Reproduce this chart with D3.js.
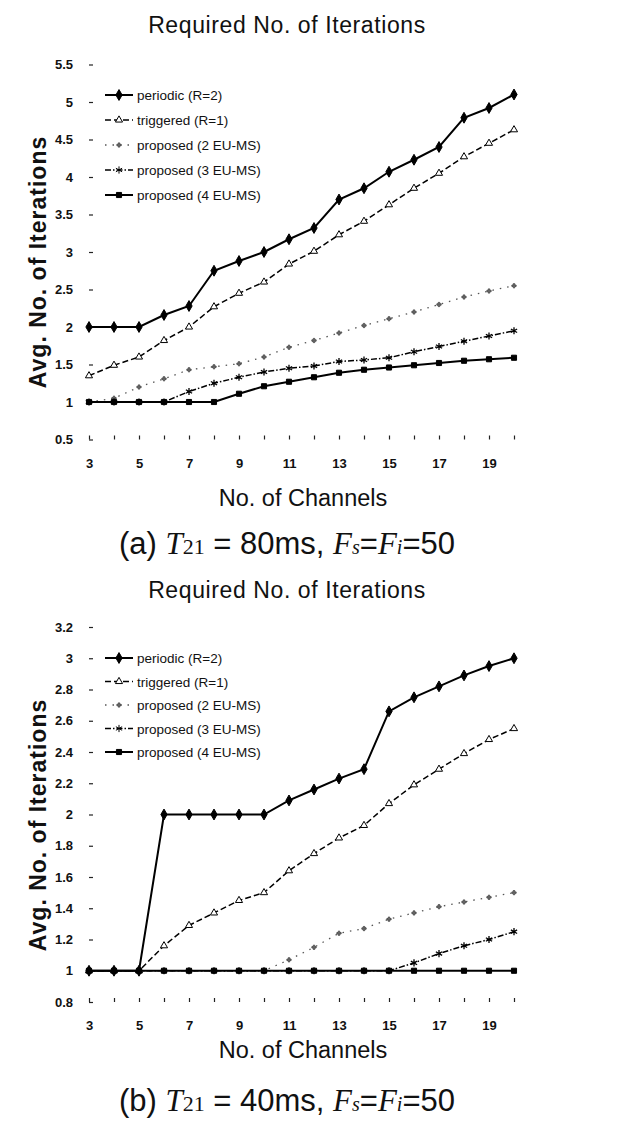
<!DOCTYPE html>
<html>
<head>
<meta charset="utf-8">
<script src="https://cdn.jsdelivr.net/npm/d3@7"></script>
<style>
  html, body { margin: 0; padding: 0; background: #fff; }
  svg { display: block; }
  text { font-family: "Liberation Sans", Arial, sans-serif; fill: #111; }
</style>
</head>
<body>
<svg id="chart" width="641" height="1123"></svg>
<script>
// ---------------- data ----------------
const channels = [3, 4, 5, 6, 7, 8, 9, 10, 11, 12, 13, 14, 15, 16, 17, 18, 19, 20];
const xTickLabels = [3, 5, 7, 9, 11, 13, 15, 17, 19];
const seriesNames = ["periodic (R=2)", "triggered (R=1)", "proposed (2 EU-MS)", "proposed (3 EU-MS)", "proposed (4 EU-MS)"];

// (a) T21 = 80ms
const aYTicks = [0.5, 1, 1.5, 2, 2.5, 3, 3.5, 4, 4.5, 5, 5.5];
const aPeriodic  = [2.0, 2.0, 2.0, 2.16, 2.28, 2.75, 2.88, 3.0, 3.17, 3.32, 3.7, 3.85, 4.07, 4.23, 4.4, 4.79, 4.92, 5.1];
const aTriggered = [1.35, 1.49, 1.6, 1.82, 2.0, 2.27, 2.45, 2.6, 2.84, 3.01, 3.23, 3.41, 3.63, 3.85, 4.05, 4.27, 4.45, 4.63];
const aProp2     = [1.0, 1.05, 1.2, 1.31, 1.43, 1.47, 1.51, 1.6, 1.73, 1.82, 1.92, 2.02, 2.11, 2.2, 2.3, 2.4, 2.48, 2.55];
const aProp3     = [1.0, 1.0, 1.0, 1.0, 1.14, 1.25, 1.33, 1.4, 1.45, 1.48, 1.54, 1.56, 1.59, 1.67, 1.74, 1.81, 1.88, 1.95];
const aProp4     = [1.0, 1.0, 1.0, 1.0, 1.0, 1.0, 1.11, 1.21, 1.27, 1.33, 1.39, 1.43, 1.46, 1.49, 1.52, 1.55, 1.57, 1.59];

// (b) T21 = 40ms
const bYTicks = [0.8, 1, 1.2, 1.4, 1.6, 1.8, 2, 2.2, 2.4, 2.6, 2.8, 3, 3.2];
const bPeriodic  = [1, 1, 1, 2, 2, 2, 2, 2, 2.09, 2.16, 2.23, 2.29, 2.66, 2.75, 2.82, 2.89, 2.95, 3.0];
const bTriggered = [1, 1, 1, 1.16, 1.29, 1.37, 1.45, 1.5, 1.64, 1.75, 1.85, 1.93, 2.07, 2.19, 2.29, 2.39, 2.48, 2.55];
const bProp2     = [1, 1, 1, 1, 1, 1, 1, 1, 1.07, 1.15, 1.24, 1.27, 1.33, 1.37, 1.41, 1.44, 1.47, 1.5];
const bProp3     = [1, 1, 1, 1, 1, 1, 1, 1, 1, 1, 1, 1, 1, 1.05, 1.11, 1.16, 1.2, 1.25];
const bProp4     = [1, 1, 1, 1, 1, 1, 1, 1, 1, 1, 1, 1, 1, 1, 1, 1, 1, 1];

// ---------------- styles ----------------
const styles = [
  { dash: null,        width: 2.0, color: "#000", sym: d3.symbolDiamond,  size: 34, fill: "#000" },
  { dash: "6,3",       width: 1.5, color: "#000", sym: d3.symbolTriangle, size: 22, fill: "#fff" },
  { dash: "1.5,6",     width: 1.3, color: "#555", sym: d3.symbolCross,    size: 10, fill: "#666" },
  { dash: "6,2,1.5,2", width: 1.5, color: "#000", sym: d3.symbolAsterisk, size: 36, fill: "none" },
  { dash: null,        width: 2.0, color: "#000", sym: d3.symbolSquare,   size: 26, fill: "#000" }
];

const svg = d3.select("#chart");
const x = d3.scaleLinear().domain([3, 20]).range([89, 514]);

function drawPanel(cfg) {
  const y = d3.scaleLinear().domain(cfg.yDomain).range(cfg.yRange);
  const g = svg.append("g");

  // title
  g.append("text").attr("x", 287).attr("y", cfg.titleY)
    .attr("text-anchor", "middle").style("font-size", "23px").style("letter-spacing", "0.6px")
    .text("Required No. of Iterations");

  // y axis (ticks only)
  const yAxis = d3.axisLeft(y).tickValues(cfg.yTicks).tickSize(-4).tickPadding(16)
    .tickFormat(d => String(d));
  const ya = g.append("g").attr("transform", "translate(89,0)").call(yAxis);
  ya.select(".domain").remove();
  ya.selectAll("line").attr("stroke", "#222").attr("stroke-width", 1.2);
  ya.selectAll("text").style("font-size", "13px").style("font-weight", "bold")
    .style("font-family", "'Liberation Sans', Arial, sans-serif").attr("fill", "#111");

  // x axis (ticks at each channel, labels on odd)
  const xAxis = d3.axisBottom(x).tickValues(channels).tickSize(-4).tickPadding(19)
    .tickFormat(d => xTickLabels.includes(d) ? String(d) : "");
  const xa = g.append("g").attr("transform", `translate(0,${cfg.yRange[0]})`).call(xAxis);
  xa.select(".domain").remove();
  xa.selectAll("line").attr("stroke", "#222").attr("stroke-width", 1.2);
  xa.selectAll("text").style("font-size", "13px").style("font-weight", "bold")
    .style("font-family", "'Liberation Sans', Arial, sans-serif").attr("fill", "#111");

  // y label
  g.append("text")
    .attr("transform", `translate(46,${cfg.yLabelCenter}) rotate(-90)`)
    .attr("text-anchor", "middle").style("font-size", "23px").style("font-weight", "bold")
    .style("letter-spacing", "1px")
    .text("Avg. No. of Iterations");

  // x label
  g.append("text").attr("x", 303).attr("y", cfg.xLabelY)
    .attr("text-anchor", "middle").style("font-size", "23.5px")
    .text("No. of Channels");

  // lines
  const line = d3.line().x((d, i) => x(channels[i])).y(d => y(d));
  cfg.series.forEach((vals, si) => {
    const st = styles[si];
    g.append("path").datum(vals).attr("d", line)
      .attr("fill", "none").attr("stroke", st.color).attr("stroke-width", st.width)
      .attr("stroke-dasharray", st.dash);
  });
  cfg.series.forEach((vals, si) => {
    const st = styles[si];
    const sym = d3.symbol().type(st.sym).size(st.size);
    g.selectAll(null).data(vals).enter().append("path")
      .attr("transform", (d, i) => `translate(${x(channels[i])},${y(d)})`)
      .attr("d", sym())
      .attr("fill", st.fill === "none" ? "none" : st.fill)
      .attr("stroke", st.color).attr("stroke-width", si === 3 ? 1.3 : 1);
  });

  // legend
  seriesNames.forEach((name, si) => {
    const st = styles[si];
    const ly = cfg.legendY0 + si * cfg.legendStep;
    g.append("line").attr("x1", 105).attr("x2", 133).attr("y1", ly).attr("y2", ly)
      .attr("stroke", st.color).attr("stroke-width", st.width).attr("stroke-dasharray", st.dash);
    g.append("path").attr("transform", `translate(119,${ly})`)
      .attr("d", d3.symbol().type(st.sym).size(st.size)())
      .attr("fill", st.fill === "none" ? "none" : st.fill).attr("stroke", st.color).attr("stroke-width", 1);
    g.append("text").attr("x", 137).attr("y", ly + 5).style("font-size", "13.5px").attr("fill", "#222")
      .text(name);
  });

  // caption
  const cap = g.append("text").attr("x", 287).attr("y", cfg.captionY)
    .attr("text-anchor", "middle").style("font-size", "31px");
  cap.append("tspan").text(cfg.letter + " ");
  cap.append("tspan").style("font-family", "'Liberation Serif', 'Times New Roman', serif").style("font-style", "italic").text("T");
  cap.append("tspan").style("font-family", "'Liberation Serif', 'Times New Roman', serif").style("font-size", "22px").text("21");
  cap.append("tspan").text(" = " + cfg.t21 + ", ");
  cap.append("tspan").style("font-family", "'Liberation Serif', 'Times New Roman', serif").style("font-style", "italic").text("F");
  cap.append("tspan").style("font-family", "'Liberation Serif', 'Times New Roman', serif").style("font-style", "italic").style("font-size", "20px").text("s");
  cap.append("tspan").text("=");
  cap.append("tspan").style("font-family", "'Liberation Serif', 'Times New Roman', serif").style("font-style", "italic").text("F");
  cap.append("tspan").style("font-family", "'Liberation Serif', 'Times New Roman', serif").style("font-style", "italic").style("font-size", "20px").text("i");
  cap.append("tspan").text("=50");
}

drawPanel({
  yDomain: [0.5, 5.5], yRange: [439.5, 64.5], yTicks: aYTicks,
  titleY: 33, xLabelY: 506, captionY: 554, yLabelCenter: 262,
  legendY0: 95, legendStep: 25, letter: "(a)", t21: "80ms",
  series: [aPeriodic, aTriggered, aProp2, aProp3, aProp4]
});

drawPanel({
  yDomain: [0.8, 3.2], yRange: [1002, 627], yTicks: bYTicks,
  titleY: 598, xLabelY: 1058, captionY: 1111, yLabelCenter: 825,
  legendY0: 658, legendStep: 23.5, letter: "(b)", t21: "40ms",
  series: [bPeriodic, bTriggered, bProp2, bProp3, bProp4]
});
</script>
</body>
</html>
